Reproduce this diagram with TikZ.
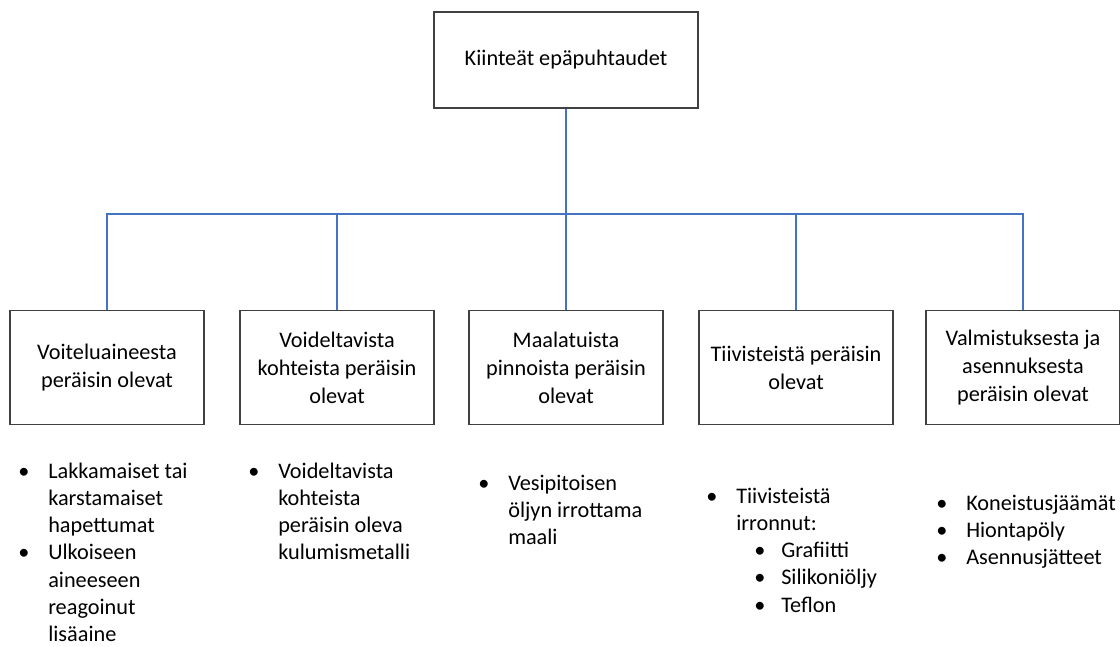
\documentclass[tikz,border=0pt]{standalone}
\usepackage{fontspec}
\setmainfont{Carlito}
\definecolor{linkblue}{RGB}{68,114,196}
\definecolor{boxgray}{RGB}{64,64,64}
\tikzset{
  pbox/.style={draw=boxgray, line width=1.1pt, minimum width=194*0.75pt, minimum height=114*0.75pt, align=center, font=\fontsize{16.7pt}{21pt}\selectfont, inner sep=0pt},
  topbox/.style={pbox, minimum width=264*0.75pt, minimum height=96*0.75pt},
  conn/.style={draw=linkblue, line width=0.8pt},
  blist/.style={anchor=north west, inner sep=0pt, align=left, font=\fontsize{16.7pt}{20.4pt}\selectfont}
}
\newcommand{\bl}{\textbullet}
\newcommand{\subbl}[1]{\hspace{13.5pt}\makebox[20.25pt][l]{\textbullet}#1}
\newenvironment{blt}{\begin{tabular}{@{}p{22.5pt}@{}l@{}}}{\end{tabular}}
\begin{document}
\begin{tikzpicture}[x=0.75pt,y=-0.75pt]
\useasboundingbox (0,0) rectangle (1120,646);
\node[topbox] (top) at (566,60) {Kiinteät epäpuhtaudet};
\node[pbox] (c1) at (107,367.5) {Voiteluaineesta\\peräisin olevat};
\node[pbox] (c2) at (337,367.5) {Voideltavista\\kohteista peräisin\\olevat};
\node[pbox] (c3) at (566,367.5) {Maalatuista\\pinnoista peräisin\\olevat};
\node[pbox] (c4) at (796,367.5) {Tiivisteistä peräisin\\olevat};
\node[pbox] (c5) at (1023,367.5) {Valmistuksesta ja\\asennuksesta\\peräisin olevat};
\coordinate (bus) at (566,214);
\draw[conn] (top.south) -- (bus);
\foreach \c in {c1,c2,c3,c4,c5} \draw[conn] (bus) -| (\c.north);
\node[blist] (l1) at (18,459) {\begin{blt}
\bl & Lakkamaiset tai\\ & karstamaiset\\ & hapettumat\\
\bl & Ulkoiseen\\ & aineeseen\\ & reagoinut\\ & lisäaine\end{blt}};
\node[blist] (l2) at (248,459) {\begin{blt}
\bl & Voideltavista\\ & kohteista\\ & peräisin oleva\\ & kulumismetalli\end{blt}};
\node[blist] (l3) at (478,471) {\begin{blt}
\bl & Vesipitoisen\\ & öljyn irrottama\\ & maali\end{blt}};
\node[blist] (l4) at (706,484) {\begin{blt}
\bl & Tiivisteistä\\ & irronnut:\\ & \subbl{Grafiitti}\\ & \subbl{Silikoniöljy}\\ & \subbl{Teflon}\end{blt}};
\node[blist] (l5) at (936,491) {\begin{blt}
\bl & Koneistusjäämät\\ \bl & Hiontapöly\\ \bl & Asennusjätteet\end{blt}};
\end{tikzpicture}
\end{document}
